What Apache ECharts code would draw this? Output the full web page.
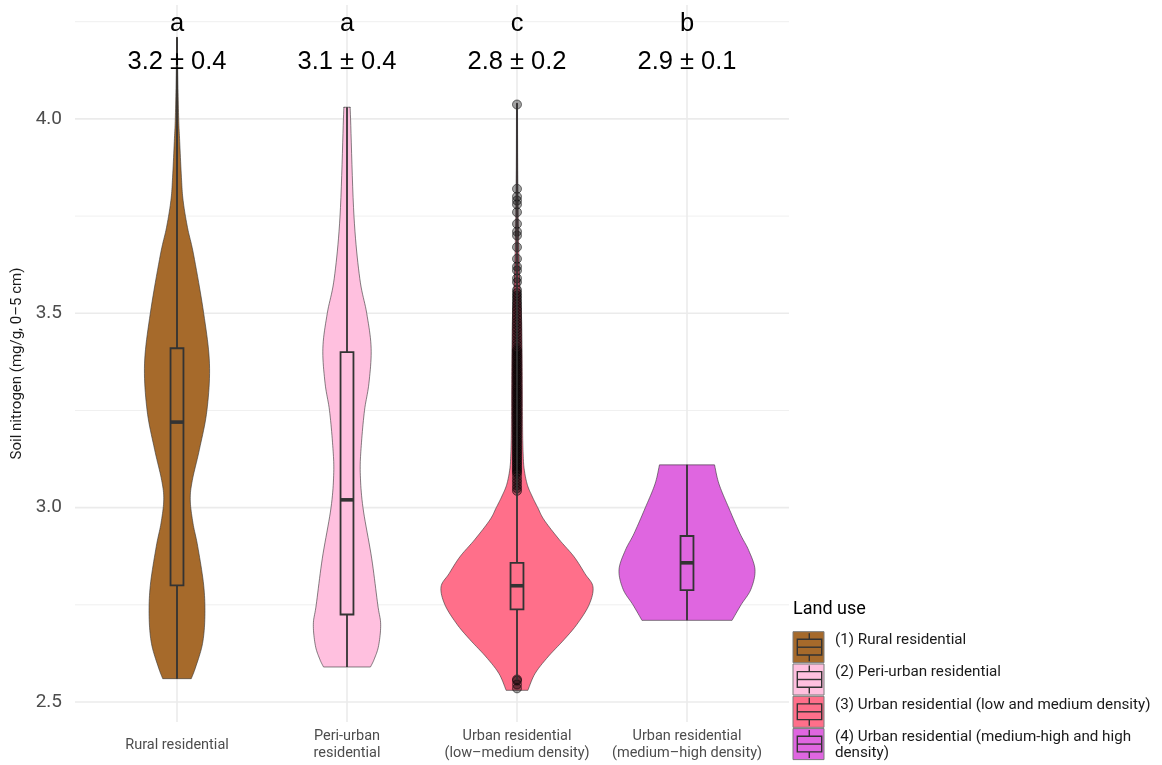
<!DOCTYPE html>
<html>
<head>
<meta charset="utf-8">
<script src="https://cdn.jsdelivr.net/npm/echarts@6.0.0/dist/echarts.min.js"></script>
<style>
  html, body { margin: 0; padding: 0; background: #ffffff; }
  #chart { width: 1162px; height: 765px; }
</style>
</head>
<body>
<div id="chart"></div>
<script>
// ---- data ----
const categories = [
  'Rural residential',
  'Peri-urban\nresidential',
  'Urban residential\n(low\u2013medium density)',
  'Urban residential\n(medium\u2013high density)'
];
const legendLabels = [
  '(1) Rural residential',
  '(2) Peri-urban residential',
  '(3) Urban residential (low and medium density)',
  '(4) Urban residential (medium-high and high\ndensity)'
];
const fillColors = ['#A66A2B', '#FFC0DF', '#FF6F8A', '#DF66E0'];

const groupLetters = ['a', 'a', 'c', 'b'];
const groupMeans = [3.2, 3.1, 2.8, 2.9];
const groupSds = [0.4, 0.4, 0.2, 0.1];

// box statistics per group
const boxQ1 = [2.80, 2.725, 2.738, 2.788];
const boxMedian = [3.22, 3.02, 2.799, 2.858];
const boxQ3 = [3.41, 3.40, 2.858, 2.927];
const rangeLow = [2.56, 2.59, 2.556, 2.71];
const rangeHigh = [4.21, 4.03, 4.04, 3.11];

// violin outlines: [soil N value, half width in category units], top to bottom
const violinRural = [
  [4.21, 0.002], [4.10, 0.005], [4.00, 0.010], [3.95, 0.015], [3.85, 0.026],
  [3.79, 0.036], [3.72, 0.062], [3.65, 0.098], [3.50, 0.157], [3.37, 0.191],
  [3.25, 0.176], [3.15, 0.132], [3.07, 0.090], [3.02, 0.078], [2.96, 0.094],
  [2.90, 0.122], [2.80, 0.157], [2.72, 0.164], [2.65, 0.150], [2.59, 0.110],
  [2.56, 0.084]
];
const violinPeri = [
  [4.03, 0.018], [4.00, 0.021], [3.75, 0.041], [3.59, 0.075], [3.50, 0.116],
  [3.41, 0.142], [3.32, 0.129], [3.25, 0.103], [3.16, 0.084], [3.09, 0.078],
  [3.00, 0.094], [2.87, 0.145], [2.75, 0.181], [2.70, 0.198], [2.645, 0.186],
  [2.61, 0.160], [2.59, 0.138]
];
const violinUrbanLow = [
  [4.04, 0.003], [3.90, 0.004], [3.80, 0.006], [3.70, 0.009], [3.60, 0.014],
  [3.50, 0.026], [3.40, 0.030], [3.30, 0.032], [3.20, 0.033], [3.14, 0.036],
  [3.10, 0.042], [3.06, 0.060], [3.03, 0.088], [3.00, 0.122], [2.968, 0.160],
  [2.917, 0.250], [2.874, 0.335], [2.83, 0.400], [2.796, 0.447], [2.75, 0.424],
  [2.70, 0.353], [2.66, 0.276], [2.616, 0.182], [2.573, 0.106], [2.53, 0.064]
];
const violinUrbanHigh = [
  [3.11, 0.162], [3.061, 0.188], [3.00, 0.245], [2.933, 0.312], [2.89, 0.363],
  [2.84, 0.400], [2.79, 0.376], [2.75, 0.318], [2.71, 0.265]
];

// individual high / low observations for urban low-medium density
const outliersUrbanLow = [
  4.037, 3.82, 3.80, 3.79, 3.78, 3.76, 3.73, 3.71, 3.70, 3.67, 3.64, 3.62, 3.61, 3.59, 3.58, 3.56,
  3.552, 3.545, 3.538, 3.530, 3.523, 3.515, 3.508, 3.500, 3.492, 3.485, 3.477, 3.470, 3.462, 3.455,
  3.447, 3.440, 3.432, 3.425, 3.418, 3.410,
  3.405, 3.401, 3.396, 3.391, 3.387, 3.382, 3.377, 3.372, 3.368, 3.363, 3.358, 3.354, 3.349, 3.344,
  3.340, 3.335, 3.330, 3.326, 3.321, 3.316, 3.311, 3.307, 3.302, 3.297, 3.293, 3.288, 3.283, 3.279,
  3.274, 3.269, 3.265, 3.260, 3.255, 3.251, 3.246, 3.241, 3.237, 3.232, 3.227, 3.223, 3.218, 3.213,
  3.209, 3.204, 3.199, 3.195, 3.190, 3.185, 3.181, 3.176, 3.171, 3.167, 3.162, 3.157, 3.153, 3.148,
  3.143, 3.139, 3.134, 3.129, 3.125, 3.120, 3.115, 3.111, 3.106, 3.101, 3.097, 3.092,
  3.088, 3.080, 3.072, 3.065, 3.057, 3.050, 3.043,
  2.558, 2.555, 2.545, 2.535
];

const yMajorTicks = [2.5, 3.0, 3.5, 4.0];
const yMinorTicks = [2.75, 3.25, 3.75, 4.25];
const xPositions = [1, 2, 3, 4];

// ---- drawing helpers ----
const violins = [violinRural, violinPeri, violinUrbanLow, violinUrbanHigh];
const LETTER_Y = 4.245;
const STAT_Y = 4.147;
const BOX_HALF = 0.038;
const INK = '#333333';

// Catmull-Rom sampling of a pixel polyline, for a smooth outline
function smoothLine(pts, steps) {
  const out = [];
  for (let k = 0; k < pts.length - 1; k++) {
    const p0 = pts[Math.max(k - 1, 0)], p1 = pts[k], p2 = pts[k + 1], p3 = pts[Math.min(k + 2, pts.length - 1)];
    for (let s = 0; s < steps; s++) {
      const t = s / steps, t2 = t * t, t3 = t2 * t;
      const f = (a, b, c, d) => 0.5 * (2 * b + (-a + c) * t + (2 * a - 5 * b + 4 * c - d) * t2 + (-a + 3 * b - 3 * c + d) * t3);
      out.push([f(p0[0], p1[0], p2[0], p3[0]), f(p0[1], p1[1], p2[1], p3[1])]);
    }
  }
  out.push(pts[pts.length - 1]);
  return out;
}

const chart = echarts.init(document.getElementById('chart'), null, { renderer: 'canvas' });

const option = {
  animation: false,
  backgroundColor: '#ffffff',
  textStyle: { fontFamily: 'Roboto' },
  grid: { left: 75, right: 373, top: 5, bottom: 43 },
  xAxis: {
    type: 'value', min: 0.4, max: 4.6,
    axisLine: { show: false }, axisTick: { show: false }, splitLine: { show: false },
    axisLabel: {
      customValues: xPositions,
      formatter: v => categories[Math.round(v) - 1] || '',
      color: '#4D4D4D', fontSize: 14.5, lineHeight: 17, margin: 23,
      verticalAlign: 'middle', fontFamily: 'Roboto'
    }
  },
  yAxis: {
    type: 'value', min: 2.4485, max: 4.293,
    name: 'Soil nitrogen (mg/g, 0\u20135 cm)', nameLocation: 'middle', nameGap: 50,
    nameMoveOverlap: false,
    nameTextStyle: { color: '#1A1A1A', fontSize: 15, fontFamily: 'Roboto' },
    axisLine: { show: false }, axisTick: { show: false }, splitLine: { show: false },
    axisLabel: { show: false }
  },
  series: [
    {
      // panel grid lines and y tick labels
      type: 'custom', silent: true, z: 1, clip: false,
      data: [0],
      renderItem: (params, api) => {
        const cs = params.coordSys;
        const children = [];
        yMinorTicks.forEach(v => {
          const y = api.coord([1, v])[1];
          children.push({ type: 'line', shape: { x1: cs.x, y1: y, x2: cs.x + cs.width, y2: y },
            style: { stroke: '#F0F0F0', lineWidth: 1 } });
        });
        yMajorTicks.forEach(v => {
          const y = api.coord([1, v])[1];
          children.push({ type: 'line', shape: { x1: cs.x, y1: y, x2: cs.x + cs.width, y2: y },
            style: { stroke: '#EBEBEB', lineWidth: 1.6 } });
          children.push({ type: 'text', style: { text: v.toFixed(1), x: cs.x - 13, y: y, fill: '#4D4D4D',
            font: '19px Roboto', align: 'right', verticalAlign: 'middle' } });
        });
        xPositions.forEach(v => {
          const x = api.coord([v, 3])[0];
          children.push({ type: 'line', shape: { x1: x, y1: cs.y, x2: x, y2: cs.y + cs.height },
            style: { stroke: '#EBEBEB', lineWidth: 1.6 } });
        });
        return { type: 'group', children };
      }
    },
    {
      // violins
      type: 'custom', z: 2,
      data: xPositions.map((x, i) => [x, boxMedian[i]]),
      encode: { x: 0, y: 1 },
      renderItem: (params, api) => {
        const i = params.dataIndex;
        const xc = xPositions[i];
        const prof = violins[i];
        const left = smoothLine(prof.map(([v, w]) => api.coord([xc - w, v])), 10);
        const right = smoothLine(prof.map(([v, w]) => api.coord([xc + w, v])), 10).reverse();
        return {
          type: 'polygon',
          shape: { points: left.concat(right) },
          style: { fill: fillColors[i], stroke: INK, lineWidth: 0.6 }
        };
      }
    },
    {
      // individual observations
      type: 'scatter', z: 3,
      data: outliersUrbanLow.map(v => [3, v]),
      symbol: 'circle', symbolSize: 9,
      itemStyle: { color: 'rgba(0,0,0,0.45)', borderColor: 'rgba(0,0,0,0.65)', borderWidth: 1 },
      silent: true
    },
    {
      // range lines and boxes
      type: 'custom', z: 4,
      data: xPositions.map((x, i) => [x, boxMedian[i]]),
      encode: { x: 0, y: 1 },
      renderItem: (params, api) => {
        const i = params.dataIndex;
        const xc = xPositions[i];
        const lo = api.coord([xc, rangeLow[i]]);
        const hi = api.coord([xc, rangeHigh[i]]);
        const q1 = api.coord([xc - BOX_HALF, boxQ1[i]]);
        const q3 = api.coord([xc + BOX_HALF, boxQ3[i]]);
        const medL = api.coord([xc - BOX_HALF, boxMedian[i]]);
        const medR = api.coord([xc + BOX_HALF, boxMedian[i]]);
        return {
          type: 'group',
          children: [
            { type: 'line', shape: { x1: lo[0], y1: lo[1], x2: hi[0], y2: hi[1] },
              style: { stroke: INK, lineWidth: 1.8 } },
            { type: 'rect', shape: { x: q1[0], y: q3[1], width: q3[0] - q1[0], height: q1[1] - q3[1] },
              style: { fill: fillColors[i], stroke: INK, lineWidth: 1.8 } },
            { type: 'line', shape: { x1: medL[0], y1: medL[1], x2: medR[0], y2: medR[1] },
              style: { stroke: INK, lineWidth: 3.6 } }
          ]
        };
      }
    },
    {
      // group letters and mean ± sd
      type: 'custom', z: 5, silent: true,
      data: xPositions.map((x, i) => [x, groupMeans[i]]),
      encode: { x: 0, y: 1 },
      renderItem: (params, api) => {
        const i = params.dataIndex;
        const pL = api.coord([xPositions[i], LETTER_Y]);
        const pS = api.coord([xPositions[i], STAT_Y]);
        const font = '25.5px "Liberation Sans", Arial, sans-serif';
        return {
          type: 'group',
          children: [
            { type: 'text', style: { text: groupLetters[i], x: pL[0], y: pL[1], fill: '#000', font, align: 'center', verticalAlign: 'middle' } },
            { type: 'text', style: { text: groupMeans[i].toFixed(1) + ' \u00B1 ' + groupSds[i].toFixed(1), x: pS[0], y: pS[1], fill: '#000', font, align: 'center', verticalAlign: 'middle' } }
          ]
        };
      }
    }
  ],
  graphic: { elements: [] }
};

// legend: title, keys with a small box glyph, labels
const LEG_X = 793, LEG_Y0 = 631.7, LEG_STEP = 32.3, KEY = 31;
const legendEls = [{
  type: 'text', left: LEG_X, top: 600,
  style: { text: 'Land use', fill: '#000', font: '18px Roboto' }
}];
legendLabels.forEach((lab, i) => {
  const ky = LEG_Y0 + i * LEG_STEP;
  legendEls.push({
    type: 'group', x: LEG_X, y: ky,
    children: [
      { type: 'rect', shape: { x: 0, y: 0, width: KEY, height: KEY }, style: { fill: fillColors[i], stroke: '#7A7A7A', lineWidth: 1 } },
      { type: 'line', shape: { x1: 16.3, y1: 1.5, x2: 16.3, y2: 7.6 }, style: { stroke: INK, lineWidth: 1.4 } },
      { type: 'line', shape: { x1: 16.3, y1: 23.3, x2: 16.3, y2: 29.5 }, style: { stroke: INK, lineWidth: 1.4 } },
      { type: 'rect', shape: { x: 4.3, y: 7.6, width: 24.4, height: 15.7 }, style: { fill: 'none', stroke: INK, lineWidth: 1.4 } },
      { type: 'line', shape: { x1: 4.3, y1: 15.5, x2: 28.7, y2: 15.5 }, style: { stroke: INK, lineWidth: 1.4 } }
    ]
  });
  legendEls.push({
    type: 'text', x: 835, y: ky + 0.5,
    style: { text: lab, fill: '#1A1A1A', font: '15.2px Roboto', lineHeight: 16, verticalAlign: 'top' }
  });
});
option.graphic.elements = legendEls;

chart.setOption(option);
</script>
</body>
</html>
